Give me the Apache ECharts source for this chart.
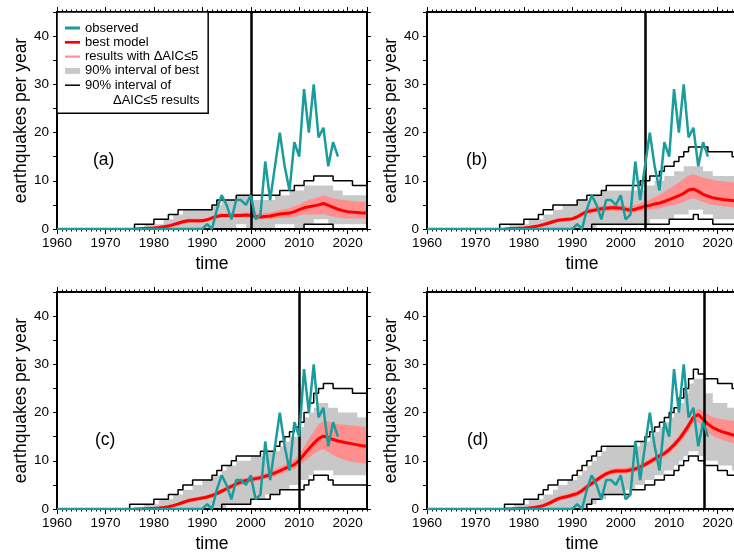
<!DOCTYPE html>
<html>
<head>
<meta charset="utf-8">
<script src="https://cdn.jsdelivr.net/npm/echarts@6/dist/echarts.min.js"></script>
<style>
html, body { margin: 0; padding: 0; background: #fff; }
#chart { width: 734px; height: 556px; }
</style>
</head>
<body>
<div id="chart"></div>
<script>
// ---- observed yearly counts (1960-2018) ----
var obsYears = [];
for (var yr = 1960; yr <= 2018; yr++) obsYears.push(yr);
var observed = [
  0, 0, 0, 0, 0, 0, 0, 0, 0, 0,
  0, 0, 0, 0, 0, 0, 0, 0, 0, 0,
  0, 0, 0, 0, 0, 0, 0, 0, 0, 0,
  0, 1, 0, 4, 7, 5, 2, 6, 6, 5,
  7, 2, 3, 14, 6, 13, 20, 13, 8, 18,
  15, 29, 20, 30, 19, 21, 13, 18, 15
];

// ---- model years (1976-2024) ----
var modelYears = [];
for (var my = 1976; my <= 2024; my++) modelYears.push(my);

// panel (a): fit up to 2000
var bestA = [0, 0.05, 0.1, 0.15, 0.2, 0.3, 0.45, 0.6, 0.9, 1.2,
  1.5, 1.7, 1.7, 1.7, 1.7, 1.9, 2.3, 2.6, 2.8, 2.8,
  2.8, 2.8, 2.8, 2.9, 2.8, 2.6, 2.5, 2.6, 2.7, 2.9,
  3.1, 3.2, 3.3, 3.6, 4.0, 4.4, 4.6, 4.8, 5.0, 5.3,
  4.9, 4.5, 4.1, 3.8, 3.6, 3.5, 3.4, 3.3, 3.3];
var loA = [0, 0, 0, 0, 0.05, 0.1, 0.2, 0.3, 0.55, 0.85,
  1.1, 1.3, 1.3, 1.3, 1.3, 1.5, 1.9, 2.2, 2.4, 2.4,
  2.4, 2.4, 2.4, 2.4, 2.3, 2.1, 2.0, 2.0, 2.0, 2.2,
  2.3, 2.3, 2.3, 2.5, 2.8, 3.0, 3.0, 3.0, 3.0, 3.1,
  2.8, 2.6, 2.4, 2.3, 2.2, 2.2, 2.2, 2.2, 2.2];
var hiA = [0.05, 0.15, 0.25, 0.35, 0.45, 0.6, 0.75, 1.0, 1.3, 1.6,
  1.9, 2.1, 2.1, 2.1, 2.1, 2.3, 2.7, 3.0, 3.3, 3.3,
  3.3, 3.3, 3.3, 3.4, 3.4, 3.2, 3.1, 3.3, 3.4, 3.7,
  3.9, 4.1, 4.3, 4.7, 5.1, 5.6, 6.0, 6.3, 6.6, 7.0,
  6.7, 6.4, 6.2, 6.0, 5.9, 5.8, 5.7, 5.7, 5.6];
var blackHiA = [[1960, 0], [1976, 1], [1980, 2], [1983, 3], [1985, 4], [1992, 5], [1993, 6], [1997, 7],
  [2006, 8], [2009, 9], [2011, 10], [2013, 11], [2017, 10], [2021, 9], [2024, 9]];
var blackLoA = [[1960, 0], [2011, 1], [2017, 0], [2024, 0]];
var grayHiA = [[1960, 0], [1978, 1], [1982, 2], [1984, 3], [1986, 4], [1992, 5], [1994, 6], [1997, 7],
  [2000, 6], [2005, 7], [2008, 8], [2011, 9], [2017, 8], [2019, 7], [2024, 7]];
var grayLoA = [[1960, 0], [1997, 1], [1999, 0], [2005, 1], [2009, 0], [2011, 1], [2013, 2], [2016, 1], [2024, 1]];

// panel (b): fit up to 2005
var bestB = [0, 0.05, 0.1, 0.15, 0.2, 0.3, 0.45, 0.65, 0.9, 1.2,
  1.5, 1.8, 1.9, 2.0, 2.1, 2.5, 3.1, 3.6, 3.8, 4.0,
  4.2, 4.3, 4.4, 4.4, 4.3, 4.1, 3.9, 4.1, 4.4, 4.7,
  4.9, 5.2, 5.4, 5.7, 6.1, 6.5, 6.9, 7.4, 8.1, 8.3,
  7.8, 7.2, 6.8, 6.5, 6.3, 6.1, 6.0, 5.9, 5.8];
var loB = [0, 0, 0, 0, 0.05, 0.1, 0.2, 0.35, 0.55, 0.8,
  1.1, 1.4, 1.5, 1.6, 1.7, 2.1, 2.6, 3.1, 3.3, 3.5,
  3.6, 3.7, 3.8, 3.8, 3.7, 3.5, 3.3, 3.4, 3.7, 3.9,
  4.0, 4.2, 4.3, 4.5, 4.8, 5.0, 5.3, 5.6, 6.1, 6.3,
  6.0, 5.6, 5.3, 5.0, 4.9, 4.7, 4.6, 4.5, 4.4];
var hiB = [0.05, 0.15, 0.25, 0.35, 0.45, 0.6, 0.8, 1.0, 1.3, 1.6,
  1.9, 2.2, 2.3, 2.4, 2.5, 3.0, 3.6, 4.1, 4.4, 4.6,
  4.8, 4.9, 5.0, 5.0, 5.0, 4.8, 4.6, 4.9, 5.3, 5.7,
  6.1, 6.6, 7.1, 7.7, 8.3, 9.0, 9.7, 10.4, 11.1, 11.3,
  11.0, 10.7, 10.4, 10.2, 10.0, 9.9, 9.8, 9.7, 9.6];
var blackHiB = [[1960, 0], [1975, 1], [1980, 2], [1983, 3], [1984, 4], [1986, 5], [1991, 6], [1993, 7],
  [1996, 8], [1997, 9], [2004, 10], [2006, 11], [2008, 12], [2009, 13], [2011, 14], [2012, 15],
  [2013, 16], [2014, 17], [2018, 16], [2023, 15], [2024, 15]];
var blackLoB = [[1960, 0], [1994, 1], [2010, 2], [2015, 3], [2016, 2], [2019, 1], [2024, 1]];
var grayHiB = [[1960, 0], [1977, 1], [1981, 2], [1984, 3], [1986, 4], [1988, 5], [1991, 6], [1994, 7],
  [1996, 8], [2005, 9], [2007, 10], [2009, 11], [2011, 12], [2013, 13], [2017, 12], [2019, 11], [2024, 11]];
var grayLoB = [[1960, 0], [1995, 1], [2006, 2], [2011, 3], [2014, 4], [2017, 3], [2019, 2], [2024, 2]];

// panel (c): fit up to 2010
var bestC = [0, 0.02, 0.05, 0.08, 0.12, 0.2, 0.3, 0.45, 0.7, 1.0,
  1.35, 1.7, 1.9, 2.1, 2.3, 2.5, 2.8, 3.2, 3.7, 4.2,
  4.7, 5.2, 5.6, 5.9, 6.1, 6.3, 6.5, 6.8, 7.1, 7.5,
  7.9, 8.4, 8.8, 9.2, 10.1, 11.3, 12.5, 13.6, 14.6, 15.1,
  14.8, 14.4, 14.1, 13.9, 13.7, 13.5, 13.3, 13.1, 13.0];
var loC = [0, 0, 0, 0, 0, 0.05, 0.1, 0.2, 0.4, 0.65,
  0.95, 1.3, 1.5, 1.7, 1.9, 2.1, 2.4, 2.8, 3.2, 3.7,
  4.2, 4.6, 5.0, 5.3, 5.5, 5.7, 5.9, 6.2, 6.5, 6.8,
  7.2, 7.6, 8.0, 8.3, 9.0, 9.8, 10.6, 11.4, 12.1, 12.4,
  11.8, 11.2, 10.7, 10.3, 10.0, 9.8, 9.6, 9.5, 9.4];
var hiC = [0.02, 0.08, 0.12, 0.18, 0.25, 0.4, 0.55, 0.75, 1.0, 1.35,
  1.75, 2.1, 2.3, 2.5, 2.7, 2.9, 3.2, 3.7, 4.2, 4.7,
  5.2, 5.8, 6.2, 6.5, 6.7, 6.9, 7.1, 7.4, 7.8, 8.2,
  8.7, 9.2, 9.7, 10.2, 11.3, 12.9, 14.5, 16.0, 17.5, 18.3,
  18.1, 17.8, 17.6, 17.5, 17.4, 17.3, 17.2, 17.1, 17.0];
var blackHiC = [[1960, 0], [1975, 1], [1980, 2], [1983, 3], [1985, 4], [1986, 5], [1988, 6], [1992, 7],
  [1993, 8], [1994, 9], [1996, 10], [1997, 11], [2002, 12], [2005, 13], [2006, 14], [2007, 15],
  [2008, 16], [2009, 17], [2010, 18], [2011, 20], [2012, 22], [2013, 24], [2014, 25], [2015, 26],
  [2017, 25], [2021, 24], [2024, 24]];
var blackLoC = [[1960, 0], [1994, 1], [2000, 2], [2004, 3], [2006, 4], [2011, 5], [2012, 6], [2013, 7],
  [2016, 6], [2017, 5], [2024, 5]];
var grayHiC = [[1960, 0], [1978, 1], [1981, 2], [1984, 3], [1986, 4], [1988, 5], [1990, 6], [1992, 7],
  [1994, 8], [1995, 9], [1997, 10], [2000, 11], [2003, 12], [2006, 13], [2007, 14], [2008, 15],
  [2010, 17], [2011, 19], [2012, 20], [2013, 21], [2014, 22], [2016, 21], [2018, 20], [2022, 19], [2024, 19]];
var grayLoC = [[1960, 0], [1995, 1], [2000, 2], [2003, 3], [2006, 4], [2008, 5], [2010, 6], [2012, 7],
  [2013, 8], [2017, 7], [2024, 7]];

// panel (d): fit up to 2017.3
var bestD = [0, 0.02, 0.05, 0.08, 0.12, 0.2, 0.3, 0.45, 0.7, 1.1,
  1.6, 2.1, 2.4, 2.6, 2.9, 3.2, 3.8, 4.6, 5.3, 6.0,
  6.7, 7.3, 7.7, 7.9, 7.9, 7.9, 8.1, 8.3, 8.7, 9.2,
  9.8, 10.4, 11.0, 11.5, 12.3, 13.3, 14.4, 15.8, 17.3, 19.0,
  19.6, 18.6, 17.6, 16.9, 16.4, 16.0, 15.7, 15.4, 15.2];
var loD = [0, 0, 0, 0, 0, 0.05, 0.1, 0.2, 0.4, 0.7,
  1.1, 1.6, 1.9, 2.1, 2.4, 2.7, 3.2, 4.0, 4.7, 5.4,
  6.1, 6.7, 7.1, 7.3, 7.3, 7.3, 7.5, 7.7, 8.1, 8.6,
  9.2, 9.7, 10.3, 10.8, 11.5, 12.5, 13.5, 14.8, 16.2, 17.8,
  18.0, 16.9, 15.9, 15.2, 14.7, 14.3, 14.0, 13.7, 13.5];
var hiD = [0.02, 0.08, 0.12, 0.18, 0.25, 0.4, 0.55, 0.75, 1.05, 1.5,
  2.1, 2.6, 2.9, 3.1, 3.4, 3.7, 4.4, 5.2, 5.9, 6.6,
  7.3, 7.9, 8.3, 8.5, 8.5, 8.5, 8.7, 8.9, 9.3, 9.8,
  10.4, 11.0, 11.6, 12.1, 12.9, 14.0, 15.2, 16.6, 18.2, 19.8,
  20.8, 20.3, 19.6, 19.1, 18.8, 18.6, 18.4, 18.3, 18.2];
var blackHiD = [[1960, 0], [1976, 1], [1980, 2], [1983, 3], [1984, 4], [1985, 5], [1987, 6], [1990, 7],
  [1991, 8], [1992, 9], [1993, 10], [1994, 11], [1995, 12], [1996, 13], [2003, 14], [2005, 15],
  [2006, 16], [2007, 17], [2008, 18], [2009, 19], [2010, 20], [2011, 21], [2012, 23], [2013, 25],
  [2014, 27], [2015, 29], [2016, 28], [2017.3, 27], [2020, 26], [2023, 25], [2024, 25]];
var blackLoD = [[1960, 0], [1993, 1], [1994, 2], [1996, 3], [2002, 4], [2005, 5], [2007, 6], [2009, 7],
  [2011, 8], [2012, 9], [2013, 10], [2014, 11], [2016, 10], [2017.3, 9], [2020, 8], [2022, 7], [2024, 7]];
var grayHiD = [[1960, 0], [1978, 1], [1981, 2], [1984, 3], [1986, 4], [1987, 5], [1989, 6], [1991, 7],
  [1992, 8], [1993, 9], [1994, 10], [1995, 11], [1996, 12], [1997, 13], [2004, 14], [2006, 15],
  [2007, 16], [2008, 17], [2009, 18], [2010, 19], [2011, 20], [2012, 22], [2013, 24], [2014, 26],
  [2015, 27], [2017.3, 24], [2019, 22], [2022, 21], [2024, 21]];
var grayLoD = [[1960, 0], [1993, 1], [1995, 2], [1997, 3], [2001, 4], [2003, 5], [2005, 6], [2007, 7],
  [2009, 8], [2011, 9], [2012, 10], [2013, 11], [2014, 12], [2016, 11], [2017.3, 10], [2020, 9],
  [2023, 8], [2024, 8]];

var panelTags = ['(a)', '(b)', '(c)', '(d)'];
var cutYears = [2000, 2005, 2010, 2017.3];

var panels = [
  { best: bestA, lo: loA, hi: hiA, bHi: blackHiA, bLo: blackLoA, gHi: grayHiA, gLo: grayLoA },
  { best: bestB, lo: loB, hi: hiB, bHi: blackHiB, bLo: blackLoB, gHi: grayHiB, gLo: grayLoB },
  { best: bestC, lo: loC, hi: hiC, bHi: blackHiC, bLo: blackLoC, gHi: grayHiC, gLo: grayLoC },
  { best: bestD, lo: loD, hi: hiD, bHi: blackHiD, bLo: blackLoD, gHi: grayHiD, gLo: grayLoD }
];

// layout
var grids = [
  { left: 57, top: 12 }, { left: 427, top: 12 },
  { left: 57, top: 292 }, { left: 427, top: 292 }
];
var tagPos = [[93, 160], [466, 160], [95, 440], [467, 440]];

var FONT = '"Liberation Sans", Arial, Helvetica, sans-serif';
var TEAL = '#1a9c9c', RED = '#ff0000', PINK = '#ff8e8e', GRAY = '#c8c8c8';

function pairs(xs, vs) {
  return xs.map(function (x, i) { return [x, vs[i]]; });
}

// band polygon between lo and hi, placed through the axes
function bandRenderer(xs, lo, hi, color) {
  return function (params, api) {
    var pts = [];
    for (var i = 0; i < xs.length; i++) pts.push(api.coord([xs[i], hi[i]]));
    for (var j = xs.length - 1; j >= 0; j--) pts.push(api.coord([xs[j], lo[j]]));
    return { type: 'polygon', shape: { points: pts }, style: { fill: color } };
  };
}

var chart = echarts.init(document.getElementById('chart'));

var gridOpt = [], xAxes = [], yAxes = [], series = [], graphics = [];

panels.forEach(function (p, g) {
  gridOpt.push({ left: grids[g].left, top: grids[g].top, width: 310, height: 217,
    containLabel: false, outerBoundsMode: 'none' });

  var xBase = { gridIndex: g, type: 'value', min: 1960, max: 2024, z: 5,
    splitLine: { show: false } };
  // bottom, decades with labels
  xAxes.push(Object.assign({}, xBase, {
    position: 'bottom', interval: 10,
    axisLine: { show: true, onZero: false, lineStyle: { color: '#000', width: 2 } },
    axisTick: { show: true, length: 5, lineStyle: { color: '#000', width: 1 } },
    axisLabel: { show: true, margin: 7, color: '#000', fontSize: 13.5, fontFamily: FONT,
      showMaxLabel: false, formatter: function (v) { return String(v); } },
    name: 'time', nameLocation: 'middle', nameGap: 26,
    nameTextStyle: { color: '#000', fontSize: 17.5, fontFamily: FONT }
  }));
  // bottom, yearly minor ticks
  xAxes.push(Object.assign({}, xBase, {
    position: 'bottom', interval: 1,
    axisLine: { show: false, onZero: false },
    axisTick: { show: true, length: 2.5, lineStyle: { color: '#000', width: 1 } },
    axisLabel: { show: false }
  }));
  // top frame
  xAxes.push(Object.assign({}, xBase, {
    position: 'top', interval: 10,
    axisLine: { show: true, onZero: false, lineStyle: { color: '#000', width: 2 } },
    axisTick: { show: true, length: 5, lineStyle: { color: '#000', width: 1 } },
    axisLabel: { show: false }
  }));
  xAxes.push(Object.assign({}, xBase, {
    position: 'top', interval: 1,
    axisLine: { show: false, onZero: false },
    axisTick: { show: true, length: 2.5, lineStyle: { color: '#000', width: 1 } },
    axisLabel: { show: false }
  }));

  var yBase = { gridIndex: g, type: 'value', min: 0, max: 45, interval: 5, z: 5,
    splitLine: { show: false },
    axisLine: { show: true, onZero: false, lineStyle: { color: '#000', width: 2 } },
    axisTick: { show: true, length: 4, lineStyle: { color: '#000', width: 1 } } };
  yAxes.push(Object.assign({}, yBase, {
    position: 'left',
    axisLabel: { show: true, margin: 8, color: '#000', fontSize: 13.5, fontFamily: FONT,
      formatter: function (v) { return v % 10 === 0 ? String(v) : ''; } },
    name: 'earthquakes per year', nameLocation: 'middle', nameGap: 27, nameRotate: 90,
    nameTextStyle: { color: '#000', fontSize: 17.5, fontFamily: FONT }
  }));
  yAxes.push(Object.assign({}, yBase, { position: 'right', axisLabel: { show: false } }));

  var xi = g * 4, yi = g * 2;
  var common = { xAxisIndex: xi, yAxisIndex: yi, showSymbol: false, symbol: 'none',
    silent: true, animation: false };

  // gray 90% interval of best model (stepped): fill up to upper, then blank below lower
  series.push(Object.assign({}, common, {
    name: '90% interval of best', type: 'line', step: 'end', data: p.gHi, z: 1,
    lineStyle: { width: 0 }, itemStyle: { color: GRAY },
    areaStyle: { color: GRAY, opacity: 1 }
  }));
  series.push(Object.assign({}, common, {
    name: 'gray lower ' + g, type: 'line', step: 'end', data: p.gLo, z: 1,
    lineStyle: { width: 0 }, itemStyle: { color: '#fff' },
    areaStyle: { color: '#fff', opacity: 1 }
  }));
  // pink range of ΔAIC≤5 results
  series.push({
    name: 'results with ΔAIC≤5', type: 'custom', coordinateSystem: 'cartesian2d',
    xAxisIndex: xi, yAxisIndex: yi, silent: true, animation: false, z: 2,
    itemStyle: { color: PINK },
    data: pairs(modelYears, p.best).slice(20, 21),
    renderItem: bandRenderer(modelYears, p.lo, p.hi, PINK)
  });
  // best model
  series.push(Object.assign({}, common, {
    name: 'best model', type: 'line', data: pairs(modelYears, p.best), z: 3,
    lineStyle: { color: RED, width: 3 }, itemStyle: { color: RED }
  }));
  // black 90% interval of ΔAIC≤5 results
  [p.bHi, p.bLo].forEach(function (d) {
    series.push(Object.assign({}, common, {
      name: '90% interval of ΔAIC≤5 results', type: 'line', step: 'end', data: d, z: 3,
      lineStyle: { color: '#000', width: 1.5 }, itemStyle: { color: '#000' }
    }));
  });
  // observed + end of fitting period
  series.push(Object.assign({}, common, {
    name: 'observed', type: 'line', z: 6, data: pairs(obsYears, observed),
    lineStyle: { color: TEAL, width: 2.5 }, itemStyle: { color: TEAL },
    markLine: {
      silent: true, symbol: ['none', 'none'], animation: false,
      label: { show: false },
      lineStyle: { color: '#000', width: 2.5, type: 'solid' },
      data: [{ xAxis: cutYears[g] }]
    }
  }));

  graphics.push({
    type: 'text', x: tagPos[g][0], y: tagPos[g][1], z: 20,
    style: { text: panelTags[g], fill: '#000', font: '17.5px ' + FONT, verticalAlign: 'middle' }
  });
});

// second line of the last legend entry
graphics.push({
  type: 'text', x: 113, y: 100, z: 20,
  style: { text: 'ΔAIC≤5 results', fill: '#000', font: '13px ' + FONT, verticalAlign: 'middle' }
});

chart.setOption({
  animation: false,
  backgroundColor: '#fff',
  grid: gridOpt,
  xAxis: xAxes,
  yAxis: yAxes,
  legend: {
    left: 57, top: 12, orient: 'vertical', z: 10,
    selectedMode: false,
    backgroundColor: '#fff', borderColor: '#000', borderWidth: 1.5, borderRadius: 0,
    padding: [9, 9, 21, 8],
    itemWidth: 15, itemHeight: 14, itemGap: 0.3, itemTextGap: 5,
    textStyle: { color: '#000', fontSize: 13, fontFamily: FONT, lineHeight: 14 },
    formatter: function (name) {
      return name === '90% interval of ΔAIC≤5 results' ? '90% interval of' : name;
    },
    data: [
      { name: 'observed', icon: 'path://M0,0H20V4H0Z', itemStyle: { color: TEAL } },
      { name: 'best model', icon: 'path://M0,0H20V3.6H0Z', itemStyle: { color: RED } },
      { name: 'results with ΔAIC≤5', icon: 'path://M0,0H20V2.8H0Z', itemStyle: { color: PINK } },
      { name: '90% interval of best', icon: 'path://M0,0H20V8H0Z', itemStyle: { color: GRAY } },
      { name: '90% interval of ΔAIC≤5 results', icon: 'path://M0,0H20V2H0Z', itemStyle: { color: '#000' } }
    ]
  },
  graphic: graphics,
  series: series
});
</script>
</body>
</html>
